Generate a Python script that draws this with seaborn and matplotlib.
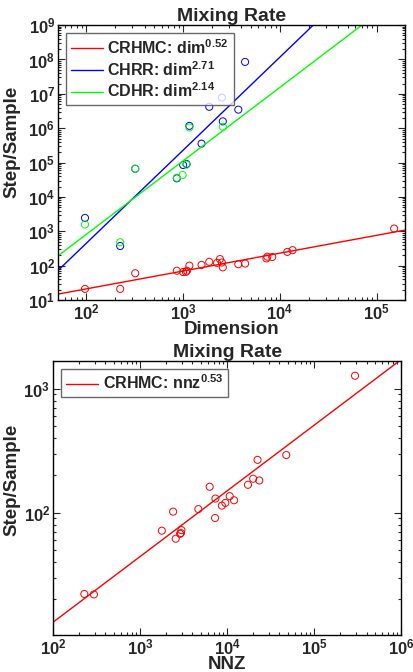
import numpy as np
import pandas as pd
import seaborn as sns
import matplotlib.pyplot as plt
from matplotlib.ticker import FuncFormatter, LogLocator, NullFormatter

# top panel: steps per sample vs dimension
crhmc_dim = [97, 224, 320, 861, 1000, 1070, 1095, 1160, 1550, 1860, 2240, 2400,
             2510, 2570, 3715, 4365, 7250, 7400, 8320, 11900, 13500, 151000]
crhmc_steps = [21, 21, 60, 71, 65, 66, 71, 100, 105, 129, 120, 155,
               123, 89, 110, 115, 162, 182, 178, 251, 282, 1200]
chrr_dim = [97, 224, 320, 861, 1000, 1084, 1161, 1549, 1862, 2512, 2570, 3715, 4365]
chrr_steps = [2450, 372, 66000, 34700, 85000, 91000, 1.17e6, 3.55e5, 4.2e6,
              7.8e6, 1.58e6, 3.47e6, 8.5e7]
cdhr_dim = [97, 224, 320, 861, 990, 1084, 1161, 2570]
cdhr_steps = [1580, 479, 66000, 36300, 43600, 87000, 1.05e6, 1.1e6]

methods = ["CRHMC", "CHRR", "CDHR"]
colors = ["#ff0000", "#0000ff", "#00ff00"]
# fitted power laws: log10(steps) = intercept + exponent * log10(x)
exponents = [0.52, 2.71, 2.14]
intercepts = [0.283, -2.77, -1.37]

# bottom panel: CRHMC steps per sample vs nnz
nnz = [229, 295, 1778, 2399, 2570, 2884, 2951, 2985, 4677, 6310, 7345, 7278,
       8710, 9550, 10715, 12023, 17378, 19953, 22387, 23442, 47863, 295000]
nnz_steps = [22.1, 21.9, 71.6, 102, 61.7, 67.6, 68.5, 72.4, 107, 162, 130, 90.6,
             114, 120, 136, 126, 168, 188, 267, 182, 292, 1274]
nnz_exponent = 0.53
nnz_intercept = 0.056

XLIM_TOP = (51, 1.95e5)
YLIM_TOP = (10, 1e9)
XLIM_BOT = (100, 1e6)
YLIM_BOT = (10.3, 1680)

sns.set_style("ticks")
plt.rcParams["font.family"] = ["Liberation Sans", "DejaVu Sans"]
plt.rcParams["font.weight"] = "bold"
plt.rcParams["mathtext.fontset"] = "custom"
plt.rcParams["mathtext.bf"] = "Liberation Sans:bold"
plt.rcParams["mathtext.rm"] = "Liberation Sans:bold"
plt.rcParams["mathtext.it"] = "Liberation Sans:bold"

pts = pd.DataFrame({
    "x": crhmc_dim + chrr_dim + cdhr_dim,
    "y": crhmc_steps + chrr_steps + cdhr_steps,
    "method": ["CRHMC"] * len(crhmc_dim) + ["CHRR"] * len(chrr_dim) + ["CDHR"] * len(cdhr_dim),
})

labels = [r"%s: dim$^{\mathbf{%.2f}}$" % (m, e) for m, e in zip(methods, exponents)]
fit_rows = []
for lab, e, c in zip(labels, exponents, intercepts):
    for xv in XLIM_TOP:
        fit_rows.append({"x": xv, "y": 10 ** (c + e * np.log10(xv)), "label": lab})
fits = pd.DataFrame(fit_rows)

fig = plt.figure(figsize=(4.14, 6.72), dpi=100)
ax1 = fig.add_axes([0.140, 0.5536, 0.838, 0.409])
ax2 = fig.add_axes([0.128, 0.055, 0.841, 0.408])

for ax in (ax1, ax2):
    ax.set_xscale("log")
    ax.set_yscale("log")

sns.scatterplot(data=pts, x="x", y="y", hue="method", hue_order=methods[::-1],
                palette=dict(zip(methods, colors)), marker="o", s=26,
                linewidth=0.7, legend=False, ax=ax1)
# open circles, like the matlab original
coll = ax1.collections[0]
coll.set_edgecolors(coll.get_facecolors())
coll.set_facecolors("none")

sns.lineplot(data=fits, x="x", y="y", hue="label", hue_order=labels,
             palette=colors, linewidth=1.0, ax=ax1)

lab2 = r"CRHMC: nnz$^{\mathbf{%.2f}}$" % nnz_exponent
pts2 = pd.DataFrame({"x": nnz, "y": nnz_steps})
fit2 = pd.DataFrame({"x": list(XLIM_BOT),
                     "y": [10 ** (nnz_intercept + nnz_exponent * np.log10(v)) for v in XLIM_BOT],
                     "label": [lab2, lab2]})
sns.scatterplot(data=pts2, x="x", y="y", marker="o", s=26, facecolor="none",
                edgecolor="#ff0000", linewidth=0.7, ax=ax2)
sns.lineplot(data=fit2, x="x", y="y", hue="label", palette=["#ff0000"],
             linewidth=1.0, ax=ax2)

fmt = FuncFormatter(lambda v, p: r"$\mathbf{10^{%d}}$" % round(np.log10(v)))
for ax, xl, yl, xlab in ((ax1, XLIM_TOP, YLIM_TOP, "Dimension"),
                         (ax2, XLIM_BOT, YLIM_BOT, "NNZ")):
    ax.set_xlim(*xl)
    ax.set_ylim(*yl)
    for axis in (ax.xaxis, ax.yaxis):
        axis.set_major_locator(LogLocator(base=10, numticks=20))
        axis.set_minor_locator(LogLocator(base=10, subs=np.arange(2, 10), numticks=20))
        axis.set_major_formatter(fmt)
        axis.set_minor_formatter(NullFormatter())
    ax.tick_params(which="both", direction="in", top=True, right=True,
                   labelsize=12, pad=2, width=0.8)
    ax.tick_params(which="major", length=5)
    ax.tick_params(which="minor", length=2.5)
    for sp in ax.spines.values():
        sp.set_linewidth(1.0)
        sp.set_color("black")
    ax.set_title("Mixing Rate", fontsize=14, fontweight="bold", pad=3)
    ax.set_xlabel(xlab, fontsize=13.5, fontweight="bold", labelpad=-1)
    ax.set_ylabel("Step/Sample", fontsize=13.5, fontweight="bold")
    leg = ax.legend(loc="upper left", fontsize=11.5, frameon=True, fancybox=False,
                    handlelength=2.0, handletextpad=0.3, borderpad=0.3,
                    labelspacing=0.2, borderaxespad=0.5)
    leg.get_frame().set_edgecolor("#444444")
    leg.get_frame().set_linewidth(1.0)
    for t in leg.get_texts():
        t.set_fontweight("bold")

ax1.yaxis.set_label_coords(-0.108, 0.575)
ax2.yaxis.set_label_coords(-0.094, 0.566)

fig.savefig("out.png", dpi=100)
